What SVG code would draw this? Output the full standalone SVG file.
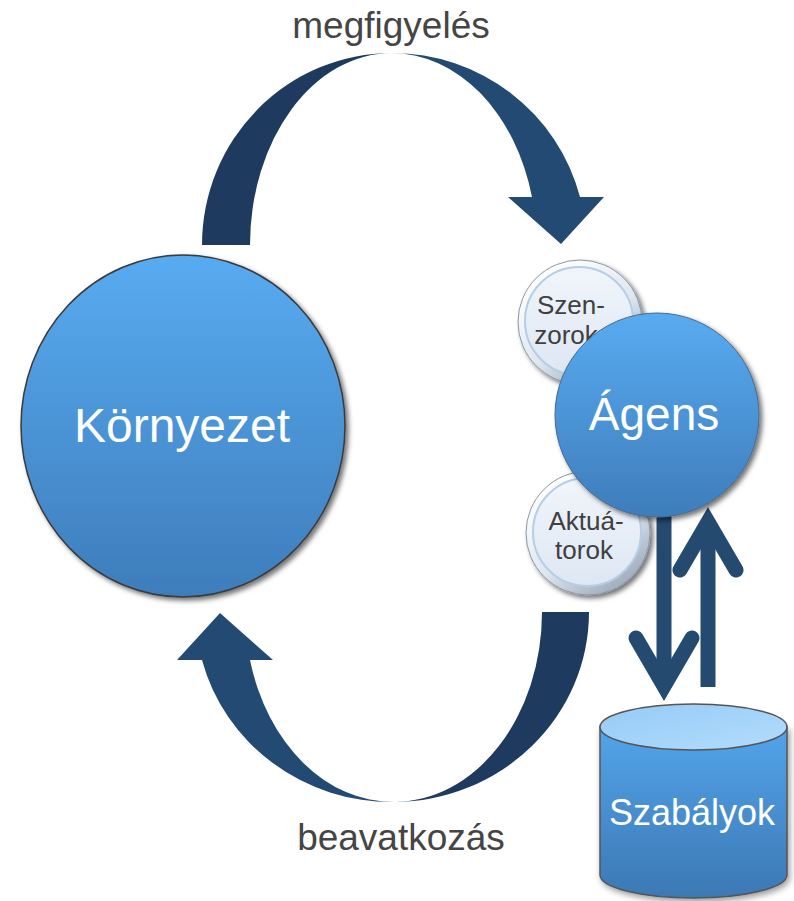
<svg xmlns="http://www.w3.org/2000/svg" width="794" height="901" viewBox="0 0 794 901">
  <defs>
    <linearGradient id="blueBall" x1="0" y1="0" x2="0" y2="1">
      <stop offset="0" stop-color="#58abf1"/>
      <stop offset="1" stop-color="#3e7dbb"/>
    </linearGradient>
    <linearGradient id="rim" x1="0.2" y1="0.1" x2="0.8" y2="0.95">
      <stop offset="0" stop-color="#ffffff"/>
      <stop offset="0.55" stop-color="#dfe6ee"/>
      <stop offset="1" stop-color="#9aa8b8"/>
    </linearGradient>
    <linearGradient id="face" x1="0" y1="0" x2="0" y2="1">
      <stop offset="0" stop-color="#f1f5fb"/>
      <stop offset="1" stop-color="#dde7f3"/>
    </linearGradient>
    <linearGradient id="drumBody" x1="0" y1="0" x2="0" y2="1">
      <stop offset="0" stop-color="#53a4ea"/>
      <stop offset="1" stop-color="#3c78b4"/>
    </linearGradient>
    <linearGradient id="drumTop" x1="0" y1="0" x2="1" y2="1">
      <stop offset="0" stop-color="#95cbf6"/>
      <stop offset="1" stop-color="#b3dcfd"/>
    </linearGradient>
    <filter id="shade" x="-20%" y="-20%" width="140%" height="140%">
      <feDropShadow dx="3" dy="3" stdDeviation="2.5" flood-color="#000" flood-opacity="0.55"/>
    </filter>
    <filter id="softShade" x="-20%" y="-20%" width="140%" height="140%">
      <feDropShadow dx="2" dy="3" stdDeviation="3" flood-color="#000" flood-opacity="0.4"/>
    </filter>
  </defs>
  <style>
    .label { font-family: "Liberation Sans", Arial, sans-serif; fill: #454545; }
    .white { font-family: "Liberation Sans", Arial, sans-serif; fill: #ffffff; text-anchor: middle; }
    .small { font-family: "Liberation Sans", Arial, sans-serif; fill: #404040; font-size: 26px; text-anchor: middle; }
    .dark { fill: #1e3a5e; }
    .mid { fill: #224a73; }
    .link { fill: none; stroke: #244a6f; stroke-width: 15; stroke-linecap: round; stroke-linejoin: miter; }
    .shaft { fill: none; stroke: #244a6f; stroke-width: 15; stroke-linecap: butt; }
  </style>

  <!-- connectors: the two curved loop arrows and the rule exchange arrows -->
  <g id="connectors">
    <!-- observation arc (top) -->
    <path class="dark" d="M202,245 A190,192 0 0 1 392,53 A142,192 0 0 0 250,245 Z"/>
    <path class="mid" d="M392,53 A194,192 0 0 1 580,197 L604,197 L561,244 L508,197 L532,197 A145,192 0 0 0 392,53 Z"/>
    <!-- action arc (bottom) -->
    <path class="dark" d="M589,612 A196,190 0 0 1 394,802 A148,190 0 0 0 542,612 Z"/>
    <path class="mid" d="M394,802 A196,190 0 0 1 202,660 L177,660 L220,613 L273,660 L250,660 A148,190 0 0 0 394,802 Z"/>
    <!-- agent to rules -->
    <line class="shaft" x1="664" y1="505" x2="664" y2="684"/>
    <polyline class="link" points="636,638 664,686 692,638"/>
    <!-- rules to agent -->
    <line class="shaft" x1="708" y1="687" x2="708" y2="525"/>
    <polyline class="link" points="680,570 708,522 736,570"/>
  </g>

  <text class="label" x="391" y="38" font-size="37" text-anchor="middle">megfigyelés</text>
  <text class="label" x="401" y="850" font-size="37" text-anchor="middle">beavatkozás</text>

  <g id="environment">
    <ellipse cx="183" cy="426" rx="162" ry="171" fill="url(#blueBall)" stroke="#3a3a3a" stroke-width="1.5" filter="url(#shade)"/>
    <text class="white" x="182" y="442" font-size="48">Környezet</text>
  </g>

  <g id="sensors">
    <circle cx="580" cy="322" r="62" fill="url(#rim)" stroke="#8a97a6" stroke-width="1" filter="url(#shade)"/>
    <circle cx="579" cy="321" r="54" fill="url(#face)" stroke="#b4cde8" stroke-width="2"/>
    <text class="small" x="571" y="314">Szen-</text>
    <text class="small" x="566" y="344">zorok</text>
  </g>

  <g id="actuators">
    <circle cx="588" cy="533" r="62" fill="url(#rim)" stroke="#8a97a6" stroke-width="1" filter="url(#shade)"/>
    <circle cx="587" cy="532" r="54" fill="url(#face)" stroke="#b4cde8" stroke-width="2"/>
    <text class="small" x="586" y="530">Aktuá-</text>
    <text class="small" x="584" y="559">torok</text>
  </g>

  <g id="agent">
    <circle cx="657" cy="415" r="102" fill="url(#blueBall)" stroke="#4a6a8a" stroke-width="1" filter="url(#shade)"/>
    <text class="white" x="654" y="430" font-size="46">Ágens</text>
  </g>

  <g id="rules">
    <path d="M600,727 L600,875 A93.5,23 0 0 0 787,875 L787,727 Z" fill="url(#drumBody)" stroke="#555" stroke-width="1.5" filter="url(#softShade)"/>
    <ellipse cx="693.5" cy="727" rx="93.5" ry="23" fill="url(#drumTop)" stroke="#555" stroke-width="1.5"/>
    <text class="white" x="692" y="825" font-size="36">Szabályok</text>
  </g>
</svg>
